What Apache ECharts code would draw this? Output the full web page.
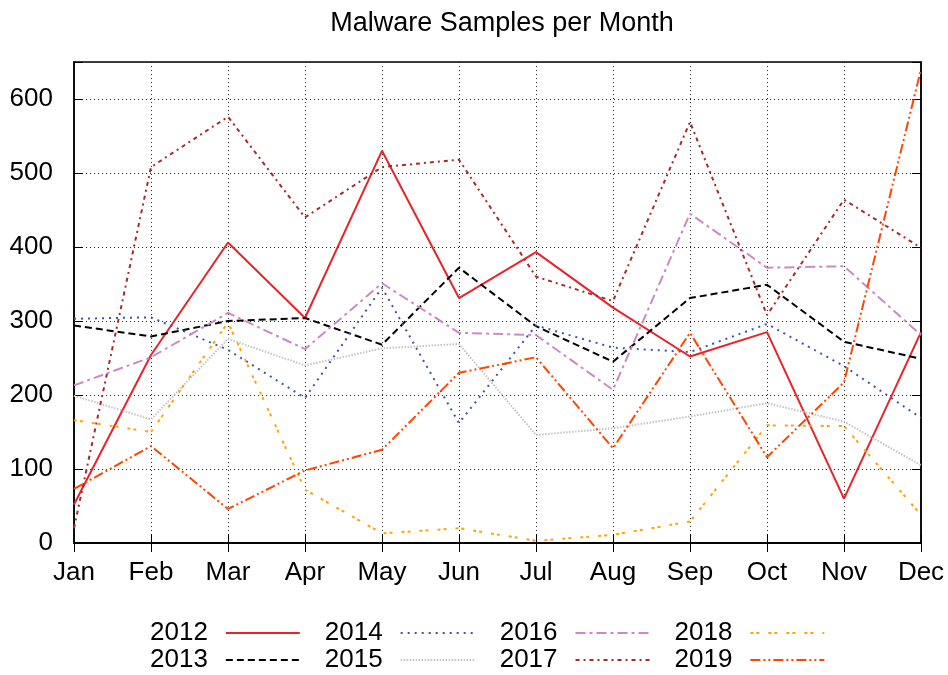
<!DOCTYPE html>
<html lang="en">
<head>
    <meta charset="UTF-8" />
    <title>Malware Samples per Month</title>
    <script src="https://cdn.jsdelivr.net/npm/echarts@6/dist/echarts.min.js"></script>
    <style>
        html, body { margin: 0; padding: 0; background: #fff; }
        #chart { width: 948px; height: 675px; }
    </style>
</head>
<body>
    <div id="chart"></div>
    <script type="text/javascript">
        // months on the x axis
        var months = ['Jan', 'Feb', 'Mar', 'Apr', 'May', 'Jun', 'Jul', 'Aug', 'Sep', 'Oct', 'Nov', 'Dec'];
        var years = ['2012', '2013', '2014', '2015', '2016', '2017', '2018', '2019'];

        // samples per month
        var y2012 = [52, 254, 406, 304, 530, 331, 393, 318, 252, 285, 60, 285];
        var y2013 = [294, 279, 300, 304, 268, 372, 293, 245, 331, 349, 272, 249];
        var y2014 = [303, 305, 261, 196, 345, 162, 294, 264, 258, 296, 239, 169];
        var y2015 = [199, 167, 276, 240, 263, 269, 146, 155, 171, 189, 164, 105];
        var y2016 = [213, 251, 311, 262, 351, 284, 281, 207, 445, 372, 374, 281];
        var y2017 = [20, 508, 576, 440, 508, 518, 360, 327, 569, 308, 464, 399];
        var y2018 = [166, 150, 298, 72, 13, 20, 3, 11, 29, 159, 158, 38];
        var y2019 = [73, 131, 46, 98, 126, 230, 251, 128, 284, 116, 217, 640];

        var yTicks = [0, 100, 200, 300, 400, 500, 600];

        var values = [y2012, y2013, y2014, y2015, y2016, y2017, y2018, y2019];
        var colors = ['#e8232a', '#000000', '#3a57a7', '#c4c4c4', '#cc88c9', '#a52a2a', '#ffa500', '#ff4500'];
        var dashes = ['solid', [7, 4], [2, 5], [1.5, 1.5], [10, 4, 3, 4], [4, 4, 2, 4], [3, 3, 3, 9], [10, 3, 2, 3, 2, 3]];

        var FONT = 'Liberation Sans';
        var chart = echarts.init(document.getElementById('chart'));

        var series = [];
        for (var i = 0; i < years.length; i++) {
            series.push({
                name: years[i],
                type: 'line',
                data: values[i],
                symbol: 'none',
                color: colors[i],
                lineStyle: { color: colors[i], width: 2, type: dashes[i] }
            });
        }

        var legendBase = {
            orient: 'horizontal',
            align: 'right',
            left: 145,
            itemWidth: 74,
            itemHeight: 14,
            itemGap: 24,
            itemStyle: { opacity: 0 }, // only the line sample, no marker
            textStyle: { fontFamily: FONT, fontSize: 26, color: '#000', padding: [0, 13, 0, 0] }
        };

        var option = {
            animation: false,
            title: {
                text: 'Malware Samples per Month',
                left: 497,
                textAlign: 'center',
                top: 5,
                textStyle: { fontFamily: FONT, fontSize: 27, fontWeight: 'normal', color: '#000' }
            },
            legend: [
                Object.assign({}, legendBase, { top: 615, data: ['2012', '2014', '2016', '2018'] }),
                Object.assign({}, legendBase, { top: 642, data: ['2013', '2015', '2017', '2019'] })
            ],
            grid: {
                left: 74,
                right: 27,
                top: 62,
                bottom: 132,
                show: true,
                borderColor: '#000',
                borderWidth: 1.5
            },
            xAxis: [{
                type: 'category',
                data: months,
                boundaryGap: false,
                axisLine: { lineStyle: { color: '#000', width: 1.5 } },
                axisTick: { inside: true, length: 9, lineStyle: { color: '#000' } },
                axisLabel: { fontFamily: FONT, fontSize: 26, color: '#000', margin: 17 },
                splitLine: { show: true, lineStyle: { color: '#222', type: [1, 3] } }
            }, {
                type: 'category',
                position: 'top',
                data: months,
                boundaryGap: false,
                axisLine: { lineStyle: { color: '#000', width: 1.5 } },
                axisTick: { inside: true, length: 9, lineStyle: { color: '#000' } },
                axisLabel: { show: false },
                splitLine: { show: false }
            }],
            yAxis: [{
                type: 'value',
                min: 0,
                max: 650,
                interval: 100,
                axisLine: { show: true, lineStyle: { color: '#000', width: 1.5 } },
                axisTick: { show: true, inside: true, length: 9, lineStyle: { color: '#000' } },
                axisLabel: {
                    fontFamily: FONT, fontSize: 26, color: '#000', margin: 21,
                    formatter: function (v) { return yTicks.indexOf(v) >= 0 ? String(v) : ''; }
                },
                splitLine: { show: true, lineStyle: { color: '#222', type: [1, 3] } }
            }, {
                type: 'value',
                position: 'right',
                min: 0,
                max: 650,
                interval: 100,
                axisLine: { show: true, lineStyle: { color: '#000', width: 1.5 } },
                axisTick: { show: true, inside: true, length: 9, lineStyle: { color: '#000' } },
                axisLabel: { show: false },
                splitLine: { show: false }
            }],
            series: series
        };

        chart.setOption(option);
    </script>
</body>
</html>
